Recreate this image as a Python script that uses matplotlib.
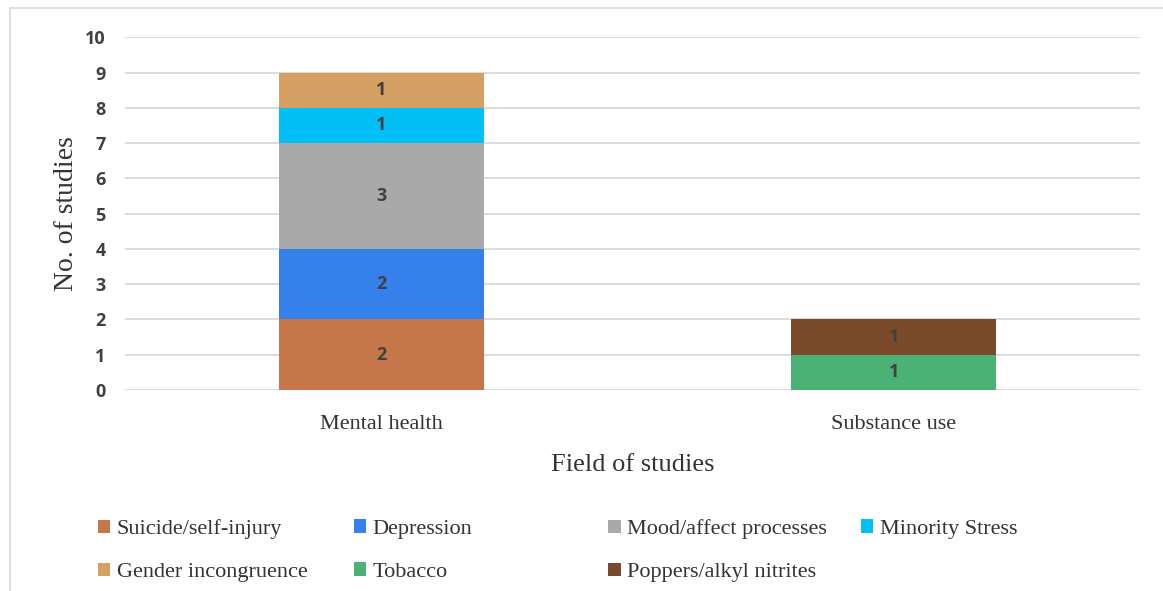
import numpy as np
import matplotlib.pyplot as plt
from matplotlib.patches import Rectangle, Patch

fields = ["Mental health", "Substance use"]
series = ["Suicide/self-injury", "Depression", "Mood/affect processes",
          "Minority Stress", "Gender incongruence", "Tobacco",
          "Poppers/alkyl nitrites"]
values = {
    "Suicide/self-injury": [2, 0],
    "Depression": [2, 0],
    "Mood/affect processes": [3, 0],
    "Minority Stress": [1, 0],
    "Gender incongruence": [1, 0],
    "Tobacco": [0, 1],
    "Poppers/alkyl nitrites": [0, 1],
}
colors = {
    "Suicide/self-injury": "#C6774A",
    "Depression": "#3580EA",
    "Mood/affect processes": "#A9A9A9",
    "Minority Stress": "#00C0F6",
    "Gender incongruence": "#D6A062",
    "Tobacco": "#4BB275",
    "Poppers/alkyl nitrites": "#7A4A2B",
}

fig = plt.figure(figsize=(11.63, 5.91), dpi=100)
fig.patches.append(Rectangle((0.009, -0.01), 1.2, 0.997, transform=fig.transFigure,
                             fill=False, edgecolor="#d9d9d9", linewidth=1.2))
ax = fig.add_axes([0.1075, 0.340, 0.8725, 0.597])

x = np.arange(len(fields))
bottom = np.zeros(len(fields))
for s in series:
    v = np.array(values[s], dtype=float)
    ax.bar(x, v, 0.4, bottom=bottom, color=colors[s], zorder=2)
    for xi, vi, bi in zip(x, v, bottom):
        if vi > 0:
            ax.text(xi, bi + vi / 2, f"{int(vi)}", ha="center", va="center",
                    fontsize=13, fontweight="bold", color="#404040",
                    family="Open Sans", zorder=3)
    bottom += v

ax.set_xlim(-0.5, 1.48)
ax.set_ylim(0, 10)
ax.set_yticks(range(0, 11))
ax.yaxis.grid(True, color="#d9d9d9", linewidth=1.3, zorder=0)
for sp in ax.spines.values():
    sp.set_visible(False)
ax.tick_params(axis="both", length=0)
ax.tick_params(axis="y", pad=14)
ax.tick_params(axis="x", pad=18)
for lab in ax.get_yticklabels():
    lab.set_fontsize(13)
    lab.set_fontweight("bold")
    lab.set_color("#404040")
    lab.set_family("Open Sans")
ax.set_xticks(x)
ax.set_xticklabels(fields, fontsize=16, color="#333333", family="Liberation Serif")
ax.set_ylabel("No. of studies", fontsize=20, color="#333333",
              family="Liberation Serif", labelpad=4)
ax.set_xlabel("Field of studies", fontsize=19, color="#333333",
              family="Liberation Serif", labelpad=14)

# legend laid out in four columns, two rows
cols = [["Suicide/self-injury", "Gender incongruence"],
        ["Depression", "Tobacco"],
        ["Mood/affect processes", "Poppers/alkyl nitrites"],
        ["Minority Stress"]]
xpos = [0.067, 0.287, 0.506, 0.723]
for names, xp in zip(cols, xpos):
    handles = [Patch(facecolor=colors[n], label=n) for n in names]
    leg = fig.legend(handles=handles, loc="upper left", bbox_to_anchor=(xp, 0.155),
                     frameon=False, handlelength=0.55, handleheight=0.55,
                     handletextpad=0.3, labelspacing=1.05,
                     prop={"family": "Liberation Serif", "size": 16})
    for t in leg.get_texts():
        t.set_color("#333333")

fig.savefig("out.png", dpi=100)
